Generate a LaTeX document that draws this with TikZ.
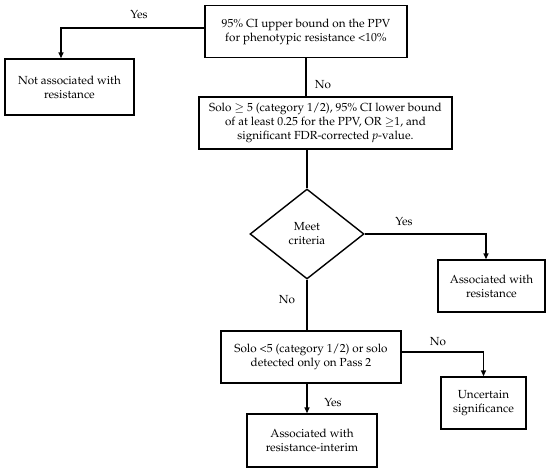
\documentclass[tikz,border=0pt]{standalone}
\usepackage[T1]{fontenc}
\usepackage{mathpazo}
\usetikzlibrary{shapes.geometric,arrows.meta,calc}
\begin{document}
\begin{tikzpicture}[x=1pt,y=-1pt,
  font=\fontsize{11.7}{14}\selectfont,
  box/.style={draw,line width=1.4pt,align=center,inner sep=0pt},
  dia/.style={draw,line width=1.4pt,diamond,align=center,inner sep=0pt,minimum width=114pt,minimum height=90pt},
  conn/.style={line width=1.4pt},
  arr/.style={line width=1.4pt,-{Triangle[length=6pt,width=5pt]}},
  lbl/.style={inner sep=0pt}]
\useasboundingbox (0,0) rectangle (550,472);
\node[box,minimum width=202pt,minimum height=52pt] (b1) at (306,31.5) {95\% CI upper bound on the PPV\\for phenotypic resistance <10\%};
\node[box,minimum width=129pt,minimum height=56pt] (na) at (69.5,87) {Not associated with\\resistance};
\node[box,minimum width=253pt,minimum height=52pt] (b2) at (325.5,123) {Solo $\geq$ 5 (category 1/2), 95\% CI lower bound\\of at least 0.25 for the PPV, OR $\geq$1, and\\significant FDR-corrected \textit{p}-value.};
\node[dia] (d) at (307,234) {Meet\\criteria};
\node[box,minimum width=107pt,minimum height=52pt] (ar) at (491.5,286) {Associated with\\resistance};
\node[box,minimum width=180pt,minimum height=52pt] (s5) at (311,357) {Solo <5 (category 1/2) or solo\\detected only on Pass 2};
\node[box,minimum width=85pt,minimum height=52pt] (un) at (483.5,403) {Uncertain\\significance};
\node[box,minimum width=130pt,minimum height=53pt] (ai) at (312,440.5) {Associated with\\resistance-interim};
% connectors
\draw[arr] ($(b1.west)+(0,-3.5)$) -| ($(na.north)+(-8.5,0)$);
\draw[conn] (b1.south) -- (b1.south |- b2.north);
\draw[conn] (d.north |- b2.south) -- (d.north);
\draw[arr] (d.east) -| ($(ar.north)+(-5.5,0)$);
\draw[conn] (d.south) -- (d.south |- s5.north);
\draw[arr] ($(s5.east)+(0,-5)$) -| (un.north);
\draw[arr] (d.south |- s5.south) -- (d.south |- ai.north);
% labels
\node[lbl] (l1) at (139,15) {Yes};
\node[lbl] (l2) at (323,85) {No};
\node[lbl] (l3) at (404,222) {Yes};
\node[lbl] (l4) at (287,300) {No};
\node[lbl] (l5) at (438,342) {No};
\node[lbl] (l6) at (333,403) {Yes};
\end{tikzpicture}
\end{document}
